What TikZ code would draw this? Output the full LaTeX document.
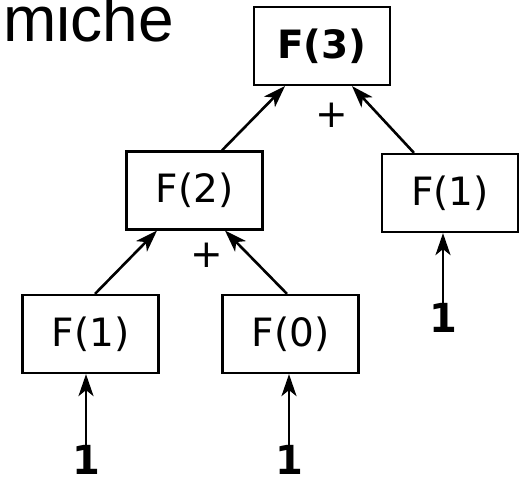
\documentclass[tikz,border=0pt]{standalone}
\usepackage{fontspec}
\setmainfont{DejaVu Sans}
\newfontfamily\titlefont{Liberation Sans}
\usetikzlibrary{arrows.meta}
\begin{document}
\begin{tikzpicture}[x=1pt,y=-1pt,
  box/.style={draw,line width=2.2pt,minimum width=136pt,minimum height=78pt,inner sep=0pt,font=\fontsize{39}{41}\selectfont},
  bbox/.style={box,font=\fontsize{39}{41}\selectfont\bfseries},
  one/.style={inner sep=0pt,font=\fontsize{40}{42}\selectfont\bfseries},
  plus/.style={inner sep=0pt,font=\fontsize{39}{41}\selectfont},
  conn/.style={line width=2.6pt,-{Stealth[length=22pt,width=15pt,inset=6pt]}}]
\useasboundingbox (0,0) rectangle (527,479);
\node[anchor=base west,inner sep=0pt,font=\fontsize{64}{66}\titlefont] (title) at (3,41) {miche};
\node[bbox] (f3) at (322,46) {F(3)};
\node[box] (f2) at (194.5,190.5) {F(2)};
\node[box] (f1r) at (450,193) {F(1)};
\node[box] (f1l) at (90.5,334) {F(1)};
\node[box] (f0) at (290.5,334) {F(0)};
\node[plus] (p1) at (332,115) {+};
\node[plus] (p2) at (207,255) {+};
\node[one] (o1) at (443,318) {1};
\node[one] (o2) at (86,460) {1};
\node[one] (o3) at (289,460) {1};
\draw[conn] ([xshift=27.5pt]f2.north) -- ([xshift=-37pt]f3.south);
\draw[conn] ([xshift=-36pt]f1r.north) -- ([xshift=30pt]f3.south);
\draw[conn] ([xshift=4.5pt]f1l.north) -- ([xshift=-37.5pt]f2.south);
\draw[conn] ([xshift=-3.5pt]f0.north) -- ([xshift=30.5pt]f2.south);
\draw[conn] ([yshift=-6pt]o1.north) -- (o1.north |- f1r.south);
\draw[conn] ([yshift=-7pt]o2.north) -- (o2.north |- f1l.south);
\draw[conn] ([yshift=-7pt]o3.north) -- (o3.north |- f0.south);
\end{tikzpicture}
\end{document}
